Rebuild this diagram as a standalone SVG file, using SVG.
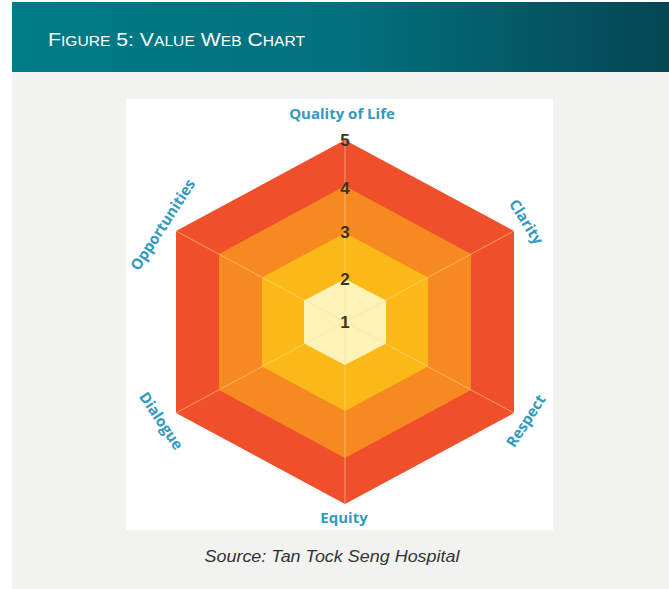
<svg xmlns="http://www.w3.org/2000/svg" width="669" height="589" viewBox="0 0 669 589">
  <defs>
    <linearGradient id="hdr" x1="0" y1="0" x2="1" y2="0">
      <stop offset="0" stop-color="#007b88"/>
      <stop offset="0.5" stop-color="#02717e"/>
      <stop offset="1" stop-color="#044652"/>
    </linearGradient>
    <style>
      .axis { font-family: "Open Sans", "DejaVu Sans", sans-serif; font-weight: 700; font-size: 15px; fill: #3399bd; text-anchor: middle; }
      .num { font-family: "Liberation Sans", Arial, sans-serif; font-weight: 700; font-size: 17px; fill: #3d3228; text-anchor: middle; }
      .spoke { stroke: #ffd9a0; stroke-opacity: 0.55; stroke-width: 1; fill: none; }
    </style>
  </defs>

  <rect x="0" y="0" width="669" height="589" fill="#ffffff"/>
  <g id="header">
    <rect x="12" y="2" width="657" height="70" fill="url(#hdr)"/>
    <text x="48" y="46" font-family="'Liberation Sans', Arial, sans-serif" font-size="19" fill="#ffffff" textLength="257" lengthAdjust="spacingAndGlyphs">F<tspan font-size="14">IGURE</tspan> 5: V<tspan font-size="14">ALUE</tspan> W<tspan font-size="14">EB</tspan> C<tspan font-size="14">HART</tspan></text>
  </g>

  <g id="panel">
    <rect x="12" y="72" width="657" height="517" fill="#f2f2f0"/>
    <rect x="126" y="99" width="427" height="431" fill="#ffffff"/>
  </g>

  <g id="web">
    <polygon id="ring5" points="345,140 514,231 514,413 345,504 176,413 176,231" fill="#ef502b"/>
    <polygon id="ring4" points="345,186 471,254 471,390 345,458 219,390 219,254" fill="#f68a21"/>
    <polygon id="ring3" points="345,233 428,277.5 428,366.5 345,411 262,366.5 262,277.5" fill="#fbb917"/>
    <polygon id="ring2" points="345,279 386,300.5 386,343.5 345,365 304,343.5 304,300.5" fill="#fdf3b6"/>
    <g id="spokes">
      <line class="spoke" x1="345" y1="322" x2="345" y2="140"/>
      <line class="spoke" x1="345" y1="322" x2="514" y2="231"/>
      <line class="spoke" x1="345" y1="322" x2="514" y2="413"/>
      <line class="spoke" x1="345" y1="322" x2="345" y2="504"/>
      <line class="spoke" x1="345" y1="322" x2="176" y2="413"/>
      <line class="spoke" x1="345" y1="322" x2="176" y2="231"/>
    </g>
    <g id="scale">
      <text class="num" x="345" y="146">5</text>
      <text class="num" x="345" y="194">4</text>
      <text class="num" x="345" y="238">3</text>
      <text class="num" x="345" y="285">2</text>
      <text class="num" x="345" y="328">1</text>
    </g>
  </g>

  <g id="axis-quality"><text class="axis" x="342" y="119">Quality of Life</text></g>
  <g id="axis-clarity"><text class="axis" transform="translate(526,222) rotate(58)" y="5">Clarity</text></g>
  <g id="axis-respect"><text class="axis" transform="translate(526,421) rotate(-57)" y="5">Respect</text></g>
  <g id="axis-equity"><text class="axis" x="344" y="523">Equity</text></g>
  <g id="axis-dialogue"><text class="axis" transform="translate(161,421) rotate(56)" y="5">Dialogue</text></g>
  <g id="axis-opportunities"><text class="axis" transform="translate(163,225) rotate(-57)" y="5">Opportunities</text></g>

  <g id="caption">
    <text x="332" y="562" font-family="'Liberation Sans', Arial, sans-serif" font-style="italic" font-size="16" fill="#333333" text-anchor="middle" textLength="255" lengthAdjust="spacingAndGlyphs">Source: Tan Tock Seng Hospital</text>
  </g>
</svg>
